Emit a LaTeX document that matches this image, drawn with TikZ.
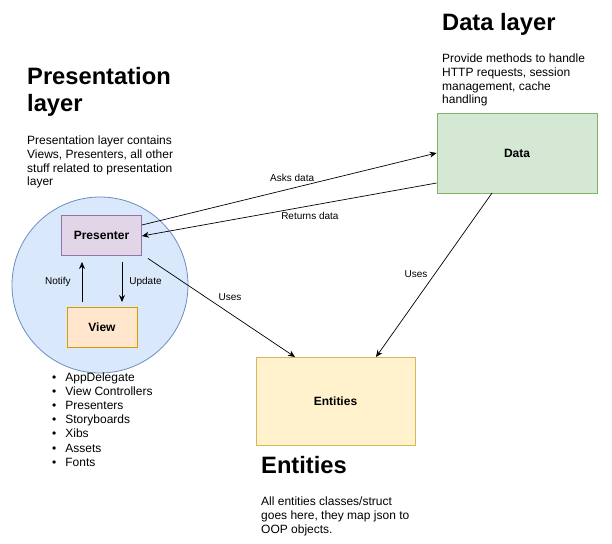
\documentclass[tikz,border=0pt]{standalone}
\usepackage{fontspec}
\setmainfont{Liberation Sans}
\usetikzlibrary{arrows.meta}
\definecolor{pfill}{HTML}{E1D5E7}\definecolor{pline}{HTML}{9673A6}
\definecolor{vfill}{HTML}{FFE6CC}\definecolor{vline}{HTML}{D79B00}
\definecolor{gfill}{HTML}{D5E8D4}\definecolor{gline}{HTML}{82B366}
\definecolor{efill}{HTML}{FFF2CC}\definecolor{eline}{HTML}{D6B656}
\definecolor{cfill}{HTML}{DAE8FC}\definecolor{cline}{HTML}{6C8EBF}
\tikzset{
  box/.style={draw, line width=0.8pt, font=\fontsize{12}{14}\selectfont\bfseries},
  title/.style={anchor=north west, inner sep=0pt, align=left, font=\fontsize{23.7}{27}\selectfont\bfseries},
  desc/.style={anchor=north west, inner sep=0pt, align=left, font=\fontsize{12}{13.7}\selectfont},
  lbl/.style={inner sep=1pt, font=\fontsize{10}{11}\selectfont},
  conn/.style={-{Stealth[length=7pt,width=6pt]}, line width=0.7pt},
}
\begin{document}
\begin{tikzpicture}[x=1pt,y=-1pt]
\useasboundingbox (0,0) rectangle (612,543);
% presentation layer
\node[title] (ptitle) at (27,67) {Presentation\\layer};
\node[desc] (pdesc) at (27,136) {Presentation layer contains\\Views, Presenters, all other\\stuff related to presentation\\layer};
\node[circle, draw=cline, fill=cfill, line width=0.8pt, minimum size=176pt, inner sep=0pt] (circ) at (100,285) {};
\node[box, draw=pline, fill=pfill, minimum width=80pt, minimum height=40pt] (pres) at (101.5,235) {Presenter};
\node[box, draw=vline, fill=vfill, minimum width=70pt, minimum height=40pt] (view) at (102,327) {View};
\coordinate (nS) at (82,302); \coordinate (nE) at (82,262);
\coordinate (uS) at (122,262); \coordinate (uE) at (122,302);
\draw[conn] (nS) -- node[lbl, left=10pt] (notify) {Notify} (nE);
\draw[conn] (uS) -- node[lbl, right=6pt] (update) {Update} (uE);
\node[desc, anchor=north west, font=\fontsize{12}{14.2}\selectfont] (list) at (52,371) {%
\begin{tabular}{@{}l@{\hspace{9pt}}l@{}}
\textbullet & AppDelegate\\
\textbullet & View Controllers\\
\textbullet & Presenters\\
\textbullet & Storyboards\\
\textbullet & Xibs\\
\textbullet & Assets\\
\textbullet & Fonts
\end{tabular}};
% data layer
\node[title] (dtitle) at (442,13) {Data layer};
\node[desc] (ddesc) at (442,54) {Provide methods to handle\\HTTP requests, session\\management, cache\\handling};
\node[box, draw=gline, fill=gfill, minimum width=160pt, minimum height=80pt] (data) at (517,153) {Data};
% entities
\node[box, draw=eline, fill=efill, minimum width=159pt, minimum height=88pt] (ent) at (335.5,401) {Entities};
\node[title] (etitle) at (261,456) {Entities};
\node[desc] (edesc) at (261,497) {All entities classes/struct\\goes here, they map json to\\OOP objects.};
% connectors
\draw[conn] (pres.east |- 0,225) -- node[lbl, pos=0.51, above=5pt] (asks) {Asks data} (data.west |- 0,153);
\draw[conn] (data.west |- 0,183) -- node[lbl, pos=0.43, below=5pt] (ret) {Returns data} (pres.east |- 0,236);
\draw[conn] (pres.south east) ++(6,3) coordinate (u1s) -- (295,357) coordinate (u1e);
\node[lbl] (uses1) at (230,297) {Uses};
\draw[conn] (492,193) coordinate (u2s) -- (376,357) coordinate (u2e);
\node[lbl] (uses2) at (416,274) {Uses};
\end{tikzpicture}
\end{document}
